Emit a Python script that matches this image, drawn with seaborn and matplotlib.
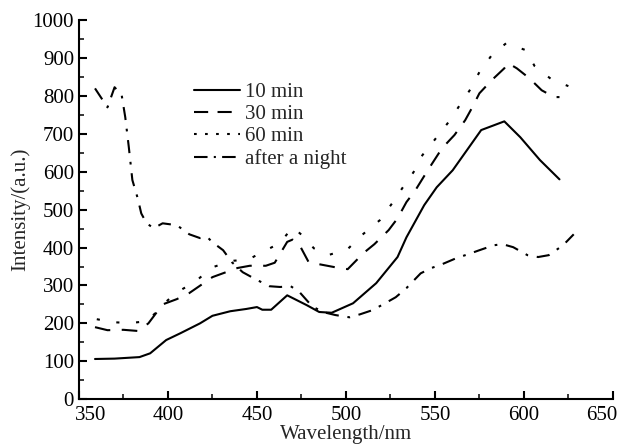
import pandas as pd
import numpy as np
import seaborn as sns
import matplotlib.pyplot as plt
import matplotlib.transforms as mtransforms

# spectra
wl_10 = [359, 370, 384, 390, 399, 407, 418, 425, 435, 444, 450, 453, 458, 467, 478, 485, 492,
         504, 517, 529, 534, 544, 551, 560, 576, 589, 598, 609, 620]
int_10 = [106, 107, 111, 121, 156, 174, 200, 220, 232, 238, 243, 236, 236, 274, 248, 230, 228,
          253, 306, 375, 427, 512, 559, 604, 710, 733, 691, 631, 580]

wl_30 = [359, 366, 375, 383, 389, 397, 405, 412, 425, 439, 446, 455, 460, 467, 470, 474, 479,
         485, 494, 501, 510, 516, 524, 529, 534, 539, 546, 554, 561, 567, 571, 575, 582, 589,
         591, 596, 603, 610, 617, 620]
int_30 = [190, 182, 183, 180, 200, 250, 264, 280, 322, 346, 352, 352, 360, 415, 421, 406, 362,
          356, 348, 343, 386, 409, 446, 477, 520, 551, 604, 662, 697, 736, 770, 807, 842, 873,
          887, 873, 847, 815, 797, 797]

wl_60 = [360, 369, 379, 389, 396, 405, 415, 425, 436, 445, 453, 463, 470, 476, 482, 490, 501,
         509, 519, 526, 532, 538, 543, 551, 558, 564, 570, 575, 582, 590, 601, 606, 616, 625]
int_60 = [211, 203, 201, 206, 245, 282, 309, 348, 365, 368, 388, 412, 454, 430, 398, 380, 396,
          433, 472, 517, 559, 599, 644, 691, 733, 776, 818, 863, 908, 939, 921, 879, 842, 826]

wl_night = [359, 366, 370, 374, 376, 378, 380, 383, 385, 388, 392, 397, 405, 412, 418, 422,
            425, 431, 436, 442, 449, 457, 463, 469, 474, 481, 487, 494, 502, 508, 515, 522,
            528, 534, 542, 548, 554, 562, 569, 575, 583, 588, 594, 602, 608, 614, 622, 628]
int_night = [820, 770, 823, 802, 744, 665, 578, 530, 490, 464, 451, 464, 459, 435, 425, 428,
             414, 393, 361, 335, 317, 298, 296, 298, 282, 245, 230, 222, 216, 224, 235, 253,
             269, 293, 332, 346, 356, 372, 383, 393, 406, 409, 401, 380, 375, 380, 406, 435]

labels = ['10 min', '30 min', '60 min', 'after a night']

frames = []
for lab, x, y in zip(labels, [wl_10, wl_30, wl_60, wl_night],
                     [int_10, int_30, int_60, int_night]):
    frames.append(pd.DataFrame({'wl': x, 'I': y, 'series': lab}))
df = pd.concat(frames, ignore_index=True)

sns.set_style("ticks")
plt.rcParams['font.family'] = ['Liberation Serif', 'DejaVu Serif']
plt.rcParams['font.size'] = 15

fig = plt.figure(figsize=(6.19, 4.48), dpi=100)
ax = fig.add_axes([0.1276, 0.109, 0.8625, 0.846])

dashes = {'10 min': '', '30 min': (7.5, 5.5), '60 min': (1.5, 8), 'after a night': (6.3, 4.2, 1.3, 4.2)}
sns.lineplot(data=df, x='wl', y='I', hue='series', style='series',
             palette=['black'] * 4, dashes=dashes, linewidth=1.5, ax=ax,
             sort=False, estimator=None)

ax.set_xlim(350, 650)
ax.set_ylim(0, 1000)
ax.set_xticks(np.arange(350, 651, 50))
ax.set_yticks(np.arange(0, 1001, 100))
ax.set_xticks(np.arange(375, 650, 50), minor=True)
ax.set_yticks(np.arange(50, 1000, 100), minor=True)
ax.tick_params(which='major', direction='in', length=6, width=1.5, labelsize=15, colors='black')
ax.tick_params(axis='x', which='major', pad=5)
ax.tick_params(which='minor', direction='in', length=3.5, width=1.3)
for s in ['top', 'right']:
    ax.spines[s].set_visible(False)
for s in ['left', 'bottom']:
    ax.spines[s].set_linewidth(1.5)
    ax.spines[s].set_color('black')

# end labels nudged inward like the original
xl = ax.get_xticklabels()
xl[0].set_transform(xl[0].get_transform() + mtransforms.ScaledTranslation(0.12, 0, fig.dpi_scale_trans))
xl[-1].set_transform(xl[-1].get_transform() + mtransforms.ScaledTranslation(-0.11, 0, fig.dpi_scale_trans))

ax.set_xlabel('Wavelength/nm', fontsize=15, labelpad=0)
ax.set_ylabel('Intensity/(a.u.)', fontsize=15, labelpad=2)

leg = ax.legend(loc='upper left', bbox_to_anchor=(0.20, 0.857), frameon=False,
                handlelength=2.2, handletextpad=0.25, labelspacing=0.12, fontsize=15,
                borderaxespad=0)
leg_dashes = [None, (6.8, 4.5), (1.3, 4), (6.5, 3, 1, 3)]
for line, d in zip(leg.get_lines(), leg_dashes):
    if d is not None:
        line.set_dashes(d)

fig.savefig('out.png', dpi=100)
